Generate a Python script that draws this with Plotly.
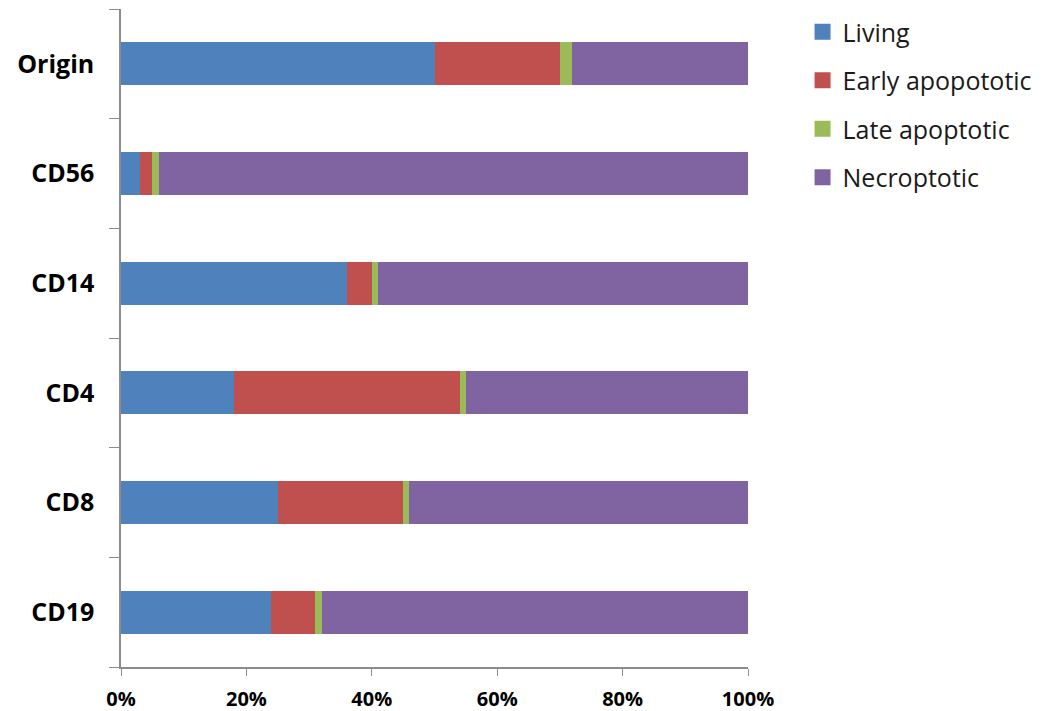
import plotly.graph_objects as go

categories = ["Origin", "CD56", "CD14", "CD4", "CD8", "CD19"]
living = [50, 3, 36, 18, 25, 24]
early_apop = [20, 2, 4, 36, 20, 7]
late_apop = [2, 1, 1, 1, 1, 1]
necroptotic = [28, 94, 59, 45, 54, 68]
series_names = ["Living", "Early apopototic", "Late apoptotic", "Necroptotic"]
colors = ["#4F81BD", "#C0504D", "#9BBB59", "#8064A2"]
x_ticks = [0, 20, 40, 60, 80, 100]
x_tick_labels = ["0%", "20%", "40%", "60%", "80%", "100%"]

FONT = "Open Sans, Liberation Sans, sans-serif"

fig = go.Figure()
for i, (name, vals) in enumerate(zip(series_names, [living, early_apop, late_apop, necroptotic])):
    fig.add_trace(go.Bar(
        y=categories, x=vals, name=name, orientation="h",
        marker=dict(color=colors[i], line=dict(width=0)),
        width=0.39, showlegend=False,
    ))
# legend entries with larger square swatches
for i, name in enumerate(series_names):
    fig.add_trace(go.Scatter(
        x=[None], y=[None], mode="markers", name=name,
        marker=dict(symbol="square", size=17, color=colors[i]),
        legendgroup=name, showlegend=True,
    ))

fig.update_layout(
    barmode="stack",
    width=1052, height=711,
    margin=dict(l=121, r=304, t=9, b=44, autoexpand=False),
    plot_bgcolor="white", paper_bgcolor="white",
    font=dict(family=FONT, color="#000000"),
    showlegend=True,
    legend=dict(
        x=1.087, y=1.0, xanchor="left", yanchor="top",
        font=dict(size=25, color="#1a1a1a", family=FONT),
        tracegroupgap=13, itemwidth=30,
    ),
)
fig.update_yaxes(
    categoryorder="array", categoryarray=categories[::-1],
    showline=True, linecolor="#8c8c8c", linewidth=1.5,
    ticks="outside", tickson="boundaries", ticklen=10, tickcolor="#8c8c8c",
    tickfont=dict(size=25, family=FONT),
    ticklabelstandoff=20, showgrid=False, automargin=False,
    tickprefix="<b>", ticksuffix="</b>",
)
fig.update_xaxes(
    range=[0, 100], tickvals=x_ticks, ticktext=["<b>" + t + "</b>" for t in x_tick_labels],
    showline=True, linecolor="#8c8c8c", linewidth=1.5,
    ticks="outside", ticklen=7, tickcolor="#8c8c8c",
    tickfont=dict(size=20), ticklabelstandoff=6,
    showgrid=False, zeroline=False, automargin=False,
)
fig.write_html("out.html")
